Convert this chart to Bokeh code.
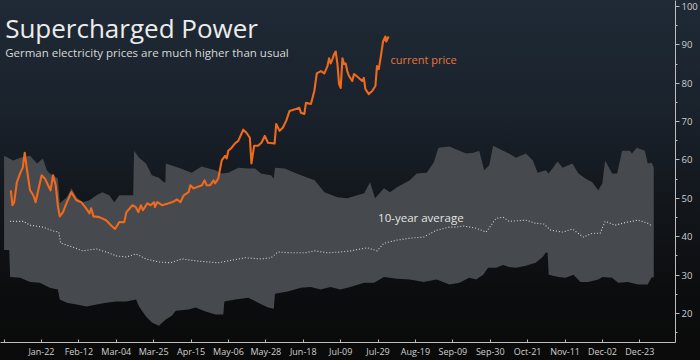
from bokeh.plotting import figure
from bokeh.models import Range1d, SingleIntervalTicker, FixedTicker, Label, GlobalInlineStyleSheet
from bokeh.embed import file_html
from bokeh.resources import INLINE

# ---- data (x = day of year, 0 = Jan 1; values in EUR/MWh) ----
upper_days = [0, 2.3, 5.1, 9.0, 14.6, 18.5, 21.8, 24.0, 25.7, 30.2, 31.3, 35.2, 37.9, 40.7, 44.1, 48.0,
              51.9, 55.2, 59.1, 61.9, 64.7, 67.5, 71.3, 72.5, 73.0, 75.8, 79.7, 83.0, 86.9, 89.7, 90.6,
              90.8, 98.1, 105.3, 110.9, 118.7, 122.0, 125.9, 131.5, 137.1, 140.9, 144.3, 149.9, 151.5,
              152.1, 157.6, 163.2, 170.5, 174.4, 179.9, 187.2, 192.7, 198.3, 202.2, 205.5, 208.3, 213.3,
              216.7, 220.6, 224.5, 227.8, 231.7, 237.3, 241.2, 243.9, 250.1, 255.7, 259.5, 263.5, 266.8,
              269.6, 272.4, 274.6, 280.2, 283.5, 287.4, 293.0, 296.9, 299.6, 304.1, 305.8, 310.8, 313.6,
              319.1, 322.5, 326.4, 330.3, 333.6, 335.9, 337.5, 341.4, 344.2, 347.0, 351.4, 352.5, 355.3,
              359.8, 361.4, 363.7, 364.8]
upper_vals = [61.1, 60.6, 59.9, 60.6, 61.1, 59.1, 60.4, 57.3, 56.5, 55.2, 48.7, 50.3, 52.6, 50.3, 49.0, 49.5,
              50.8, 51.6, 50.8, 49.0, 50.8, 50.8, 50.8, 50.8, 62.4, 60.6, 59.1, 56.0, 55.4, 54.2, 54.2,
              59.1, 58.0, 56.7, 58.3, 57.3, 56.5, 56.7, 58.0, 57.8, 57.8, 56.5, 56.0, 55.2,
              58.0, 57.8, 56.7, 55.4, 54.7, 51.6, 50.3, 50.0, 50.8, 51.3, 54.2, 50.0, 52.6,
              51.6, 52.9, 53.9, 54.7, 56.5, 56.7, 59.3, 63.2, 63.5, 62.4, 61.7, 61.9, 62.4,
              57.3, 58.6, 63.7, 62.4, 61.7, 60.6, 61.7, 59.9, 56.7, 57.3, 56.5, 59.6, 58.0,
              59.1, 56.5, 55.2, 54.2, 52.1, 53.9, 59.9, 56.5, 56.5, 62.4, 62.4, 61.7, 63.2,
              62.4, 59.1, 59.3, 58.0]

lower_days = [0, 2.9, 3.4, 9.0, 14.6, 20.1, 25.7, 30.2, 31.3, 35.2, 40.7, 46.3, 51.9, 57.4, 63.0, 68.6,
              74.1, 75.8, 79.7, 83.0, 86.9, 90.8, 94.2, 96.4, 103.6, 107.5, 113.1, 118.7, 123.1, 123.7,
              129.8, 137.1, 142.6, 148.2, 151.5, 152.1, 159.3, 166.6, 172.1, 177.7, 183.3, 188.8, 194.4,
              202.2, 207.8, 213.3, 220.6, 227.8, 235.6, 242.9, 250.1, 255.7, 261.2, 265.1, 269.0, 271.8,
              276.3, 280.2, 283.5, 287.4, 293.0, 298.5, 302.4, 304.1, 305.2, 305.8, 311.3, 315.2, 319.7,
              323.6, 328.0, 333.6, 335.9, 341.4, 344.8, 350.3, 355.9, 361.4, 363.7, 364.8]
lower_vals = [36.5, 36.5, 29.5, 29.3, 28.2, 28.0, 26.7, 26.2, 23.6, 22.8, 22.3, 21.8, 22.3, 22.8, 23.1, 23.1,
              23.6, 21.8, 19.2, 17.6, 16.8, 18.4, 19.4, 20.7, 21.0, 21.5, 20.5, 19.7, 19.7, 23.1,
              23.6, 24.1, 22.8, 21.5, 21.2, 25.1, 25.7, 26.7, 26.9, 26.2, 26.9, 26.2, 26.9,
              28.0, 28.0, 29.5, 29.0, 28.8, 28.2, 28.8, 27.5, 28.0, 29.3, 28.8, 30.1, 31.9,
              31.9, 32.6, 32.1, 31.9, 32.4, 33.2, 34.7, 35.8, 35.8, 30.1, 29.5, 29.3, 30.1,
              28.2, 28.2, 28.8, 29.5, 29.3, 28.0, 28.2, 27.5, 27.5, 29.5, 29.3]

avg_days = [3.4, 10.7, 14.6, 21.8, 27.4, 30.7, 31.8, 38.5, 44.1, 51.9, 57.4, 63.0, 68.6, 74.1, 79.7, 86.9,
            93.6, 99.8, 107.5, 114.8, 120.3, 125.9, 135.4, 144.3, 149.9, 153.8, 161.0, 168.8, 174.4,
            181.6, 188.8, 194.4, 203.9, 209.5, 213.3, 220.6, 227.8, 235.6, 242.9, 250.1, 254.0, 257.9,
            265.1, 270.7, 273.5, 276.3, 280.2, 283.5, 293.0, 298.5, 303.0, 306.9, 313.6, 319.1, 325.3,
            330.3, 334.7, 337.5, 343.1, 349.8, 355.9, 361.4, 363.1]
avg_vals = [44.0, 44.0, 43.0, 42.5, 41.5, 41.2, 38.3, 37.3, 36.3, 36.8, 36.0, 35.0, 34.7, 35.5, 34.2, 33.4,
            33.2, 34.2, 33.7, 33.4, 33.2, 33.7, 34.5, 34.2, 34.5, 36.0, 35.8, 35.8, 36.3,
            35.8, 36.0, 36.3, 37.1, 36.3, 38.3, 39.1, 39.6, 39.9, 41.7, 42.5, 42.5, 42.8,
            42.2, 41.2, 43.0, 44.8, 45.1, 44.0, 44.3, 43.5, 43.3, 41.7, 41.2, 42.0, 39.9,
            40.9, 40.9, 44.0, 43.0, 43.8, 44.3, 43.5, 43.0]

price_days = [3.8, 4.7, 5.7, 7.2, 9.0, 10.5, 11.6, 12.7, 14.6, 16.4, 17.7, 19.2, 21.1, 22.9, 24.7, 26.1,
              27.5, 29.0, 30.3, 31.3, 33.1, 35.0, 37.8, 40.6, 43.3, 46.1, 48.0, 48.9, 50.2, 53.5, 57.3,
              60.0, 62.3, 64.7, 67.5, 68.7, 72.1, 74.0, 75.4, 76.8, 78.0, 80.4, 82.3, 84.2, 84.7, 86.0,
              88.8, 92.5, 95.3, 97.1, 99.0, 100.9, 103.6, 104.6, 106.4, 111.1, 112.6, 113.8, 115.7,
              117.6, 118.5, 120.3, 122.2, 124.1, 125.0, 125.9, 127.8, 129.6, 131.5, 134.3, 136.1, 138.0,
              138.9, 140.4, 142.6, 144.5, 146.4, 148.2, 151.9, 152.8, 154.7, 156.5, 158.4, 160.3, 163.9,
              165.8, 166.7, 168.6, 169.5, 172.3, 174.2, 175.6, 177.9, 179.8, 181.6, 182.5, 183.4, 184.4,
              185.3, 186.2, 187.2, 188.1, 189.0, 190.0, 190.9, 191.8, 192.7, 193.7, 195.5, 196.5, 197.9,
              199.2, 201.1, 202.0, 202.9, 204.8, 206.7, 208.5, 209.4, 210.4, 211.3, 212.8, 214.1, 214.6,
              215.9]
price_vals = [52.1, 48.2, 49.0, 54.2, 56.5, 58.0, 61.9, 58.0, 52.1, 50.8, 49.0, 52.1, 56.0, 55.2, 53.4, 52.1,
              56.0, 53.4, 47.7, 45.3, 46.4, 48.7, 51.6, 49.5, 49.0, 47.4, 46.1, 47.4, 45.3, 45.1, 44.3,
              43.0, 42.0, 43.8, 43.8, 46.4, 48.2, 47.7, 46.4, 48.2, 46.9, 48.7, 48.2, 49.0, 47.7, 49.0,
              48.2, 48.7, 49.2, 49.7, 49.0, 50.8, 51.6, 53.4, 52.6, 53.4, 54.7, 53.4, 53.4,
              54.7, 53.9, 55.2, 59.9, 61.1, 60.4, 62.4, 63.2, 64.3, 65.0, 67.9, 67.1, 65.8,
              59.1, 63.7, 63.7, 64.5, 66.3, 64.5, 64.3, 69.4, 67.6, 68.4, 70.2, 72.8, 73.3,
              73.6, 72.3, 72.0, 74.9, 74.6, 78.0, 82.6, 83.2, 82.6, 84.5, 86.5, 85.2, 86.3,
              87.6, 88.3, 85.0, 79.8, 78.8, 86.5, 85.0, 85.2, 83.2, 81.9, 80.6, 82.4, 81.9,
              81.4, 80.6, 81.4, 78.5, 77.2, 78.0, 79.3, 84.5, 83.7, 86.3, 90.9, 92.2, 90.9,
              92.2]

tick_days = [0, 21, 42, 63, 84, 105, 126, 147, 168, 189, 210, 231, 252, 273, 294, 315, 336, 357]
tick_labels = ["", "Jan-22", "Feb-12", "Mar-04", "Mar-25", "Apr-15", "May-06", "May-28", "Jun-18",
               "Jul-09", "Jul-29", "Aug-19", "Sep-09", "Sep-30", "Oct-21", "Nov-11", "Dec-02", "Dec-23"]

title_text = "Supercharged Power"
subtitle_text = "German electricity prices are much higher than usual"

# ---- figure ----
p = figure(width=700, height=360, x_range=Range1d(-2, 377), y_range=Range1d(12.4, 101.6),
           y_axis_location="right", output_backend="svg", toolbar_location=None,
           min_border_left=0, min_border_top=0, min_border_right=0, min_border_bottom=0)
p.background_fill_alpha = 0
p.border_fill_alpha = 0
p.outline_line_color = None
p.grid.visible = False
p.stylesheets = [GlobalInlineStyleSheet(css=(
    "html{min-height:100%;background:linear-gradient(to bottom,#1f2a36 0%,#1a222c 30%,#12161b 58%,"
    "#0c0d0f 80%,#0a0a0a 100%) no-repeat;} body{background:transparent;}"))]

band_x = upper_days + lower_days[::-1]
band_y = upper_vals + lower_vals[::-1]
p.patch(band_x, band_y, fill_color="#46494d", line_color=None)
p.line(avg_days, avg_vals, line_color="#d4d4d4", line_width=1.1, line_dash="1 2")
p.line(price_days, price_vals, line_color="#f06a1e", line_width=2.1, line_join="round")

font = "Open Sans"
p.add_layout(Label(x=0.6, y=94.5, text=title_text, text_font=font, text_font_size="26px",
                   text_color="#ececec", text_baseline="alphabetic"))
p.add_layout(Label(x=0.6, y=88.1, text=subtitle_text, text_font=font, text_font_size="11.5px",
                   text_color="#d8d8d8", text_baseline="alphabetic"))
p.add_layout(Label(x=217, y=86.3, text="current price", text_font=font, text_font_size="11px",
                   text_color="#e8763c", text_baseline="middle"))
p.add_layout(Label(x=210, y=45.1, text="10-year average", text_font=font, text_font_size="11.5px",
                   text_color="#e4e4e4", text_baseline="middle"))

ax = p.xaxis[0]
ax.ticker = FixedTicker(ticks=tick_days)
ax.major_label_overrides = dict(zip(tick_days, tick_labels))
ax.axis_line_color = "#bdbdbd"
ax.major_tick_line_color = "#bdbdbd"
ax.major_tick_in = 3
ax.major_tick_out = 0
ax.minor_tick_line_color = None
ax.major_label_text_color = "#cfcfcf"
ax.major_label_text_font = font
ax.major_label_text_font_size = "9px"
ax.major_label_standoff = 2

ay = p.yaxis[0]
ay.ticker = SingleIntervalTicker(interval=10, num_minor_ticks=2)
ay.axis_line_color = "#bdbdbd"
ay.major_tick_line_color = "#bdbdbd"
ay.minor_tick_line_color = "#bdbdbd"
ay.major_tick_in = 0
ay.major_tick_out = 4
ay.minor_tick_in = 0
ay.minor_tick_out = 2
ay.major_label_text_color = "#cfcfcf"
ay.major_label_text_font = font
ay.major_label_text_font_size = "9.5px"
ay.major_label_standoff = 2

open("out.html", "w").write(file_html(p, INLINE))
